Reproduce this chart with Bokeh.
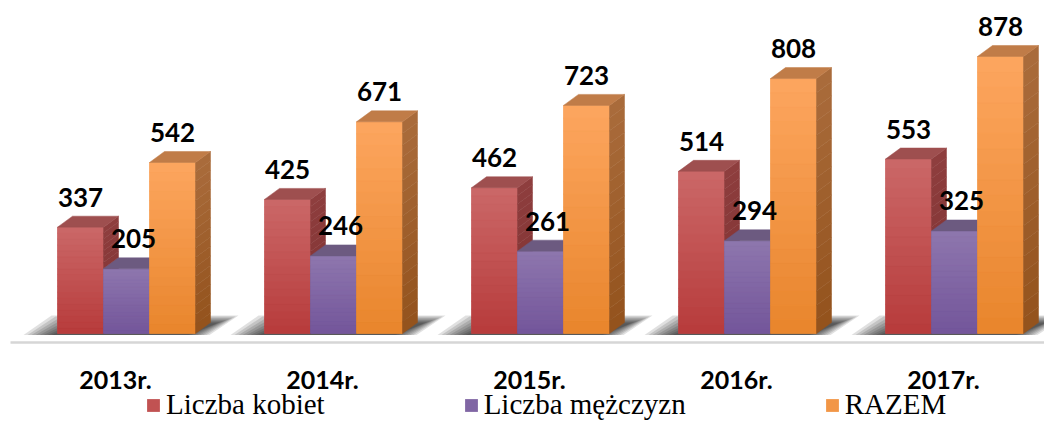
import numpy as np
from bokeh.plotting import figure
from bokeh.models import Range1d, Legend, LegendItem, ColumnDataSource
from bokeh.core.properties import value
from bokeh.embed import file_html
from bokeh.resources import INLINE

# ---------------- data ----------------
years = ["2013r.", "2014r.", "2015r.", "2016r.", "2017r."]
kobiety = [337, 425, 462, 514, 553]
mezczyzni = [205, 246, 261, 294, 325]
razem = [542, 671, 723, 808, 878]
series_names = ["Liczba kobiet", "Liczba mężczyzn", "RAZEM"]

# ---------------- styles ----------------
front_top = ["#CB6868", "#8E77AE", "#FDA65F"]
front_bot = ["#B73B3B", "#73559A", "#E8852C"]
top_col = ["#9E4F4F", "#6C5A80", "#C07C48"]
side_top = ["#8E3E3E", "#5E4A78", "#AA6C3C"]
side_bot = ["#7E3030", "#533F6C", "#93521C"]
label_dx_px = [0, 7, 0]

W, H = 1044, 422
PX_PER_UNIT = 0.3155          # pixels per data unit (vertical)
GROUP_PX = 207                # pixels per category step
BASE_FROM_TOP = 333           # baseline pixel position from figure top
FIRST_GROUP_PX = 126          # first category centre from figure left

y_start = -(H - BASE_FROM_TOP) / PX_PER_UNIT
y_end = BASE_FROM_TOP / PX_PER_UNIT
x_start = -FIRST_GROUP_PX / GROUP_PX
x_end = x_start + W / GROUP_PX


def px_x(n):
    return n / GROUP_PX


def px_y(n):
    return n / PX_PER_UNIT


def mix(c1, c2, t):
    a = [int(c1[i:i + 2], 16) for i in (1, 3, 5)]
    b = [int(c2[i:i + 2], 16) for i in (1, 3, 5)]
    return "#%02x%02x%02x" % tuple(int(round(a[k] + (b[k] - a[k]) * t)) for k in range(3))


BW = px_x(46)
DX = px_x(15)
DY = px_y(11)

p = figure(width=W, height=H, x_range=Range1d(x_start, x_end),
           y_range=Range1d(y_start, y_end), output_backend="svg",
           toolbar_location=None, min_border=0, outline_line_color=None,
           x_axis_location=None, y_axis_location=None,
           background_fill_color="white", border_fill_color="white")
p.grid.visible = False

n = len(years)
xs = np.arange(n, dtype=float)

# floor line
p.segment(x0=[x_start + px_x(10)], y0=[-px_y(9)], x1=[x_end], y1=[-px_y(9)],
          line_color="#D6D6D6", line_width=2.5)

# shadows (layered to fake blur)
for i in range(n):
    xl = xs[i] - 1.5 * BW
    xr = xs[i] + 1.5 * BW
    for k in range(8):
        px_ = [xl - px_x(34 - 4 * k), xr + px_x(14 - 3 * k),
               xr + DX + px_x(28 - 3 * k), xl - px_x(6 - 4 * k)]
        py_ = [-px_y(1.5), -px_y(1.5),
               px_y(18 - k * 1.1), px_y(18 - k * 1.1)]
        p.patch(px_, py_, fill_color="#000000", fill_alpha=0.12, line_color=None)

series = [kobiety, mezczyzni, razem]
legend_renderers = []
NB = 18
for s, vals in enumerate(series):
    cx = xs + (s - 1) * BW
    src = ColumnDataSource(dict(x=cx, top=vals))
    r = p.vbar(x="x", top="top", bottom=0, width=BW, source=src,
               fill_color=mix(front_top[s], front_bot[s], 0.5), line_color=None)
    legend_renderers.append(r)
    # gradient bands on front face
    for i, v in enumerate(vals):
        bottoms = [v * k / NB for k in range(NB)]
        tops = [v * (k + 1) / NB for k in range(NB)]
        cols = [mix(front_bot[s], front_top[s], (k + 0.5) / NB) for k in range(NB)]
        p.quad(left=cx[i] - BW / 2, right=cx[i] + BW / 2, bottom=bottoms, top=tops,
               fill_color=cols, line_color=cols, line_width=0.5)
    # side faces (gradient bands)
    for i, v in enumerate(vals):
        xr = cx[i] + BW / 2
        for k in range(NB):
            b0 = v * k / NB
            b1 = v * (k + 1) / NB
            c = mix(side_bot[s], side_top[s], (k + 0.5) / NB)
            p.patch([xr, xr + DX, xr + DX, xr], [b0, b0 + DY, b1 + DY, b1],
                    fill_color=c, line_color=c, line_width=0.5)
    # top faces
    tx = []
    ty = []
    for i, v in enumerate(vals):
        xl = cx[i] - BW / 2
        xr = cx[i] + BW / 2
        tx.append([xl, xl + DX, xr + DX, xr])
        ty.append([v, v + DY, v + DY, v])
    p.patches(tx, ty, fill_color=top_col[s], line_color=top_col[s], line_width=0.5)

# data labels
for s, vals in enumerate(series):
    cx = xs + (s - 1) * BW + px_x(label_dx_px[s])
    ly = [v + DY + px_y(19) for v in vals]
    p.text(x=cx, y=ly, text=[str(v) for v in vals], text_align="center",
           text_baseline="alphabetic", text_font=value("Lato"),
           text_font_style="bold", text_font_size="26px", text_color="#000000")

# category labels
p.text(x=xs - px_x(11), y=[-px_y(45)] * n, text=years, text_align="center",
       text_baseline="alphabetic", text_font=value("Lato"),
       text_font_style="bold", text_font_size="25px", text_color="#000000")

legend = Legend(items=[LegendItem(label=series_names[s], renderers=[legend_renderers[s]])
                       for s in range(3)],
                orientation="horizontal", location=(145, 1),
                glyph_width=16, glyph_height=16, label_standoff=5, spacing=138,
                padding=0, margin=0, border_line_color=None,
                background_fill_alpha=0, label_text_font="Liberation Serif",
                label_text_font_size="29px", label_text_color="#000000")
p.add_layout(legend)

open("out.html", "w").write(file_html(p, INLINE))
